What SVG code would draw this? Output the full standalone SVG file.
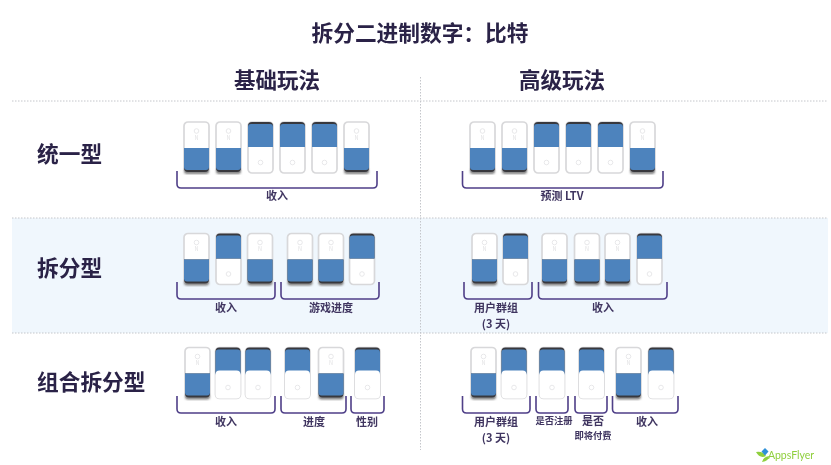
<svg xmlns="http://www.w3.org/2000/svg" xmlns:xlink="http://www.w3.org/1999/xlink" width="831" height="465" viewBox="0 0 831 465">
<style>
text{font-family:"Noto Sans CJK SC","Noto Sans",sans-serif;font-weight:700;text-anchor:middle;dominant-baseline:central}
.t{fill:#2a2346}
.title{font-size:21.700px}
.head{font-size:21.500px}
.row{font-size:21.700px;text-anchor:start}
.lab{font-size:11px;fill:#3f3560}
.sm{font-size:9.300px;fill:#3f3560}
.br{fill:none;stroke:#4f3f88;stroke-width:1.6;stroke-linejoin:round}
.dot{fill:none;stroke:#c4c6cb;stroke-width:1;stroke-dasharray:1.5 1.5}
.body{fill:#fff;stroke:#d8d8da;stroke-width:1.7}
.fill{fill:#4d83bd}
.dk{fill:#38383e}
.g{fill:none;stroke:#e2e2e4;stroke-width:.8}
.n{font-size:5.500px;fill:#e2e2e4;font-weight:400}
</style>
<defs>
<filter id="soft" x="-2%" y="-2%" width="104%" height="104%"><feGaussianBlur stdDeviation="0.45"/></filter>
<filter id="sh" x="-20%" y="-20%" width="140%" height="140%"><feGaussianBlur stdDeviation="1"/></filter>
<g id="on">
<rect x="0" y="0" width="25" height="51" rx="4" class="body"/>
<rect x="0" y="47" width="25" height="5" rx="3" fill="#888" filter="url(#sh)"/>
<path d="M0 26H25V46a4 4 0 0 1-4 4H4a4 4 0 0 1-4-4Z" class="dk"/>
<path d="M0 26H25V45a3 3 0 0 1-3 3H3a3 3 0 0 1-3-3Z" class="fill"/>
<circle cx="12.500" cy="9" r="2.300" class="g"/>
<text x="12.500" y="15.500" class="n">N</text>
</g>
<g id="off">
<rect x="0" y="0" width="25" height="51" rx="4" class="body"/>
<path d="M0 25V4a4 4 0 0 1 4-4H21a4 4 0 0 1 4 4V25Z" class="dk"/>
<path d="M0 25V5a3 3 0 0 1 3-3H22a3 3 0 0 1 3 3V25Z" class="fill"/>
<circle cx="12.500" cy="40.500" r="2.300" class="g"/>
</g>
<g id="off3">
<rect x="0" y="0" width="25" height="51" rx="4" class="body"/>
<path d="M0 26V4a4 4 0 0 1 4-4H21a4 4 0 0 1 4 4V26Z" class="dk"/>
<path d="M0 27V5a3 3 0 0 1 3-3H22a3 3 0 0 1 3 3V27Z" class="fill"/>
<path d="M0 27a4 4 0 0 1 4-4H21a4 4 0 0 1 4 4V47a4 4 0 0 1-4 4H4a4 4 0 0 1-4-4Z" fill="#fff"/>
<circle cx="12.500" cy="40" r="2.300" class="g"/>
</g>
</defs>
<rect width="831" height="465" fill="#fff"/>
<g filter="url(#soft)">
<rect id="band" x="12" y="218" width="816" height="115" fill="#f0f7fd"/>
<g id="grid">
<path class="dot" d="M12 101H828M12 218H828M12 333H828M420.500 77V450"/>
</g>
<g id="headings">
<text x="420" y="31.500" class="t title">拆分二进制数字：比特</text>
<text x="277" y="78" class="t head">基础玩法</text>
<text x="562" y="78" class="t head">高级玩法</text>
<text x="37" y="152" class="t row">统一型</text>
<text x="37" y="266" class="t row">拆分型</text>
<text x="37" y="380" class="t row">组合拆分型</text>
</g>
<g id="row1-basic">
<use href="#on" x="184" y="122"/><use href="#on" x="216" y="122"/><use href="#off" x="248" y="122"/><use href="#off" x="280" y="122"/><use href="#off" x="312" y="122"/><use href="#on" x="344" y="122"/>
<text x="277" y="194.500" class="lab">收入</text>
</g>
<g id="row1-adv">
<use href="#on" x="470" y="122"/><use href="#on" x="502" y="122"/><use href="#off" x="534" y="122"/><use href="#off" x="566" y="122"/><use href="#off" x="598" y="122"/><use href="#on" x="630" y="122"/>
<text x="562" y="194.500" class="lab">预测 LTV</text>
</g>
<g id="row2-basic">
<use href="#on" x="184" y="233.500"/><use href="#off" x="216" y="233.500"/><use href="#on" x="247.500" y="233.500"/><use href="#on" x="287.500" y="233.500"/><use href="#on" x="318.500" y="233.500"/><use href="#off" x="349.500" y="233.500"/>
<text x="226" y="307" class="lab">收入</text>
<text x="331" y="307" class="lab">游戏进度</text>
</g>
<g id="row2-adv">
<use href="#on" x="472" y="233.500"/><use href="#off" x="503" y="233.500"/><use href="#on" x="542" y="233.500"/><use href="#on" x="574.500" y="233.500"/><use href="#on" x="605" y="233.500"/><use href="#off" x="637" y="233.500"/>
<text x="496" y="307" class="lab">用户群组</text>
<text x="496" y="323" class="lab">(3 天)</text>
<text x="603" y="307" class="lab">收入</text>
</g>
<g id="row3-basic">
<use href="#on" x="185" y="347.500"/><use href="#off3" x="215.500" y="347.500"/><use href="#off3" x="245.500" y="347.500"/><use href="#off3" x="285" y="347.500"/><use href="#on" x="318.500" y="347.500"/><use href="#off3" x="355" y="347.500"/>
<text x="226" y="421" class="lab">收入</text>
<text x="314" y="421" class="lab">进度</text>
<text x="367" y="421" class="lab">性别</text>
</g>
<g id="row3-adv">
<use href="#on" x="471" y="347.500"/><use href="#off3" x="501.500" y="347.500"/><use href="#off3" x="539.500" y="347.500"/><use href="#off3" x="579" y="347.500"/><use href="#on" x="616" y="347.500"/><use href="#off3" x="648.500" y="347.500"/>
<text x="496" y="421" class="lab">用户群组</text>
<text x="496" y="437" class="lab">(3 天)</text>
<text x="554" y="420" class="sm">是否注册</text>
<text x="593" y="420" class="lab">是否</text>
<text x="593" y="435" class="sm">即将付费</text>
<text x="647" y="421" class="lab">收入</text>
</g>
<g id="connectors">
<path class="br" d="M177 171V184q0 4 4 4H373q4 0 4-4V171"/>
<path class="br" d="M462.500 171V184q0 4 4 4H659q4 0 4-4V171"/>
<path class="br" d="M177 282V295q0 4 4 4H271q4 0 4-4V282"/>
<path class="br" d="M281 282V295q0 4 4 4H375q4 0 4-4V282"/>
<path class="br" d="M464 282V295q0 4 4 4H528q4 0 4-4V282"/>
<path class="br" d="M538.500 282V295q0 4 4 4H663q4 0 4-4V282"/>
<path class="br" d="M177 396V409q0 4 4 4H271q4 0 4-4V396"/>
<path class="br" d="M281 396V409q0 4 4 4H342q4 0 4-4V396"/>
<path class="br" d="M351 396V409q0 4 4 4H380q4 0 4-4V396"/>
<path class="br" d="M462.500 396V409q0 4 4 4H526q4 0 4-4V396"/>
<path class="br" d="M536 396V409q0 4 4 4H564q4 0 4-4V396"/>
<path class="br" d="M575 396V409q0 4 4 4H603q4 0 4-4V396"/>
<path class="br" d="M612.500 396V409q0 4 4 4H674q4 0 4-4V396"/>
</g>
<g id="logo">
<path d="M756 452q7-1 10 4q-6 3-10-4Z" fill="#8fcf3c"/>
<path d="M762 462q1-5 7-6q0 5-7 6Z" fill="#8fcf3c"/>
<path d="M765 448l3.500 3.500-3.500 4-3.500-4Z" fill="#2f8fd8"/>
<text x="791" y="455" style="font-family:'Lato',sans-serif;font-size:10.500px;font-weight:400;fill:#8fcf3c">AppsFlyer</text>
</g>
</g>
</svg>
